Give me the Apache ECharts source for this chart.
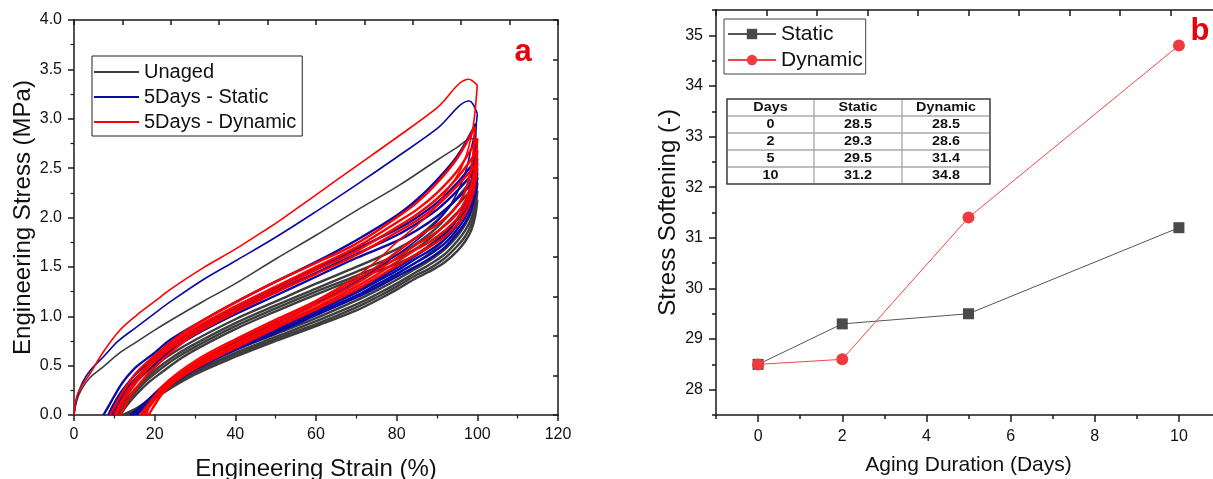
<!DOCTYPE html>
<html><head><meta charset="utf-8">
<script src="https://cdn.jsdelivr.net/npm/echarts@6/dist/echarts.min.js"></script>
<style>html,body{margin:0;padding:0;background:#fff}#c{width:1213px;height:479px}</style>
</head><body><div id="c"></div>
<script>
// ---------- Panel (a): cyclic stress-strain curves, [strain %, stress MPa] ----------
const unagedLoading = [
  [[0,0],[0.7,0.15],[2,0.27],[4,0.38],[7.3,0.49],[11,0.62],[15.5,0.74],[20,0.86],[24,0.96],[32,1.15],[40,1.33],[50,1.58],[60,1.82],[70,2.07],[80.8,2.33],[90,2.58],[95,2.71],[98.6,2.8],[100,2.77]],
  [[9.5,0],[11,0.1],[13,0.22],[16,0.36],[20,0.5],[25,0.64],[30,0.76],[40,0.97],[50,1.15],[60,1.33],[70,1.5],[80,1.68],[85,1.8],[90,1.97],[95,2.2],[100,2.45]],
  [[10.5,0],[12,0.1],[14,0.21],[17,0.34],[20,0.45],[25,0.6],[30,0.72],[40,0.93],[50,1.11],[60,1.28],[70,1.45],[80,1.62],[85,1.74],[90,1.9],[95,2.12],[100,2.35]],
  [[11,0],[12.5,0.09],[15,0.22],[18,0.35],[21,0.45],[25,0.57],[30,0.69],[40,0.9],[50,1.08],[60,1.25],[70,1.41],[80,1.58],[85,1.69],[90,1.85],[95,2.05],[100,2.27]],
  [[11.5,0],[13,0.09],[15.5,0.21],[18.5,0.33],[22,0.44],[26,0.56],[30,0.66],[40,0.87],[50,1.05],[60,1.22],[70,1.38],[80,1.53],[85,1.63],[90,1.78],[95,1.98],[100,2.18]]
];
const unagedUnloading = [
  [[100,2.77],[99.6,2.55],[99,2.38],[98,2.2],[96,2.0],[93,1.83],[90,1.7],[85,1.55],[80,1.42],[75,1.3],[70,1.2],[60,1.02],[50,0.85],[40,0.68],[30,0.48],[22,0.27],[16,0.08],[12,0]],
  [[100,2.45],[99.5,2.24],[98.5,2.06],[97,1.93],[95,1.81],[92,1.68],[88,1.56],[85,1.49],[80,1.37],[75,1.26],[70,1.16],[60,0.98],[50,0.82],[40,0.66],[30,0.47],[22,0.26],[16,0.08],[12,0]],
  [[100,2.35],[99.5,2.16],[98.5,1.99],[97,1.87],[95,1.76],[92,1.63],[88,1.52],[85,1.45],[80,1.33],[75,1.22],[70,1.12],[60,0.95],[50,0.79],[40,0.63],[30,0.44],[22,0.24],[16.5,0.08],[12.5,0]],
  [[100,2.27],[99.5,2.09],[98.5,1.93],[97,1.81],[95,1.71],[92,1.59],[88,1.48],[85,1.42],[80,1.3],[75,1.19],[70,1.09],[60,0.92],[50,0.77],[40,0.61],[30,0.43],[22,0.23],[17,0.08],[13,0]],
  [[100,2.18],[99.5,2.02],[98.5,1.87],[97,1.76],[95,1.66],[92,1.55],[88,1.45],[85,1.39],[80,1.27],[75,1.16],[70,1.06],[60,0.9],[50,0.75],[40,0.59],[30,0.41],[22,0.22],[17,0.07],[13.5,0]]
];
const staticLoading = [
  [[0,0],[0.7,0.17],[2,0.32],[4,0.45],[7.3,0.59],[11,0.75],[15.5,0.89],[20,1.03],[24,1.15],[32,1.37],[40,1.56],[50,1.8],[60,2.06],[70,2.33],[80,2.61],[90,2.9],[98,3.18],[100,3.05]],
  [[7.3,0],[9,0.12],[11.4,0.29],[13,0.38],[15.5,0.49],[19.7,0.62],[23.8,0.76],[32,0.96],[40,1.14],[50,1.35],[60,1.55],[70,1.77],[80,2.02],[85,2.18],[90,2.38],[95,2.62],[99.6,2.95]],
  [[8.5,0],[10,0.12],[12,0.25],[15,0.4],[20,0.58],[25,0.74],[30,0.87],[40,1.08],[50,1.28],[60,1.48],[70,1.68],[80,1.88],[85,2.0],[90,2.15],[95,2.35],[100,2.6]],
  [[9,0],[10.5,0.12],[12.5,0.24],[15.5,0.38],[20,0.55],[25,0.71],[30,0.84],[40,1.05],[50,1.25],[60,1.44],[70,1.63],[80,1.82],[85,1.94],[90,2.08],[95,2.27],[100,2.5]],
  [[9.5,0],[11,0.12],[13,0.23],[16,0.37],[20,0.52],[25,0.68],[30,0.81],[40,1.02],[50,1.21],[60,1.4],[70,1.59],[80,1.76],[85,1.87],[90,2.01],[95,2.19],[100,2.4]]
];
const staticUnloading = [
  [[100,3.05],[99.5,2.88],[98.6,2.72],[97,2.45],[95,2.25],[92,2.05],[88,1.88],[85,1.77],[80,1.62],[70,1.35],[60,1.13],[50,0.93],[40,0.74],[30,0.52],[22,0.27],[16,0.07],[14,0]],
  [[99.6,2.95],[99.3,2.62],[98.5,2.35],[97,2.14],[95,1.98],[92,1.83],[88,1.7],[85,1.62],[80,1.49],[75,1.37],[70,1.26],[60,1.07],[50,0.89],[40,0.72],[30,0.52],[22,0.29],[17,0.1],[14,0]],
  [[100,2.6],[99.5,2.4],[98.5,2.2],[97,2.05],[95,1.92],[92,1.78],[88,1.66],[85,1.59],[80,1.46],[75,1.35],[70,1.24],[60,1.05],[50,0.87],[40,0.7],[30,0.5],[22,0.28],[17,0.1],[14.5,0]],
  [[100,2.5],[99.5,2.32],[98.5,2.14],[97,2.0],[95,1.88],[92,1.74],[88,1.62],[85,1.55],[80,1.43],[75,1.32],[70,1.21],[60,1.03],[50,0.85],[40,0.68],[30,0.48],[22,0.26],[17,0.09],[15,0]],
  [[100,2.4],[99.5,2.24],[98.5,2.08],[97,1.95],[95,1.84],[92,1.7],[88,1.58],[85,1.51],[80,1.4],[75,1.29],[70,1.19],[60,1.01],[50,0.83],[40,0.66],[30,0.46],[22,0.25],[18,0.1],[15.5,0]]
];
const dynamicLoading = [
  [[0,0],[0.7,0.19],[2,0.3],[4,0.42],[7.3,0.64],[11.4,0.86],[15.5,1.01],[20,1.15],[23.8,1.27],[32,1.49],[40,1.68],[46.9,1.86],[50,1.94],[60,2.23],[70,2.52],[80,2.81],[90,3.11],[97.9,3.4],[100,3.34]],
  [[9,0],[10.5,0.12],[12.5,0.26],[15.5,0.43],[20,0.6],[25,0.77],[30,0.91],[40,1.14],[50,1.35],[60,1.54],[68.4,1.7],[75,1.86],[80,2.0],[85,2.15],[90,2.35],[95,2.6],[99.4,2.92]],
  [[10,0],[11.5,0.12],[13.5,0.26],[16.5,0.42],[20,0.57],[25,0.74],[30,0.88],[40,1.1],[50,1.3],[60,1.5],[70,1.7],[80,1.95],[85,2.08],[90,2.25],[95,2.47],[100,2.8]],
  [[10.5,0],[12,0.12],[14,0.25],[17,0.41],[20,0.54],[25,0.71],[30,0.85],[40,1.07],[50,1.27],[60,1.47],[70,1.66],[80,1.9],[85,2.03],[90,2.19],[95,2.4],[100,2.68]],
  [[11.5,0],[13,0.12],[15,0.25],[18,0.4],[21,0.52],[25,0.67],[30,0.82],[40,1.04],[50,1.24],[60,1.43],[70,1.62],[80,1.85],[85,1.97],[90,2.12],[95,2.32],[100,2.55]]
];
const dynamicUnloading = [
  [[100,3.34],[99.5,3.1],[99,2.93],[98.4,2.8],[97,2.6],[95,2.42],[92,2.25],[90,2.12],[85,1.92],[80,1.75],[75,1.56],[70,1.4],[60,1.16],[50,0.97],[40,0.77],[30,0.55],[22,0.3],[19,0.12],[18,0]],
  [[99.4,2.92],[99,2.65],[98,2.4],[96.5,2.22],[94,2.07],[90,1.93],[85,1.8],[80,1.65],[75,1.5],[70,1.37],[60,1.15],[50,0.95],[40,0.75],[30,0.53],[24,0.35],[20,0.18],[17,0]],
  [[100,2.8],[99.5,2.55],[98.5,2.33],[97,2.17],[95,2.04],[92,1.92],[88,1.8],[85,1.73],[80,1.59],[75,1.46],[70,1.33],[60,1.12],[50,0.92],[40,0.72],[30,0.51],[24,0.34],[20,0.19],[17.5,0.06],[16.5,0]],
  [[100,2.68],[99.5,2.46],[98.5,2.26],[97,2.11],[95,1.99],[92,1.87],[88,1.75],[85,1.68],[80,1.55],[75,1.42],[70,1.3],[60,1.09],[50,0.9],[40,0.7],[30,0.49],[25,0.36],[21,0.2],[18.5,0.07],[17.5,0]],
  [[100,2.55],[99.5,2.36],[98.5,2.18],[97,2.04],[95,1.93],[92,1.81],[88,1.7],[85,1.63],[80,1.51],[75,1.39],[70,1.27],[60,1.07],[50,0.88],[40,0.68],[30,0.47],[25,0.34],[22,0.22],[19.5,0.07],[18.5,0]]
];
const curveNames = ['Unaged', '5Days - Static', '5Days - Dynamic'];

// ---------- Panel (b): stress softening ----------
const agingDays = [0, 2, 5, 10];
const staticSoftening = [28.5, 29.3, 29.5, 31.2];
const dynamicSoftening = [28.5, 28.6, 31.4, 34.8];
const softSeriesNames = ['Static', 'Dynamic'];
const tableHeader = ['Days', 'Static', 'Dynamic'];
const dayTickLabels = [0, 2, 4, 6, 8, 10];
const dayMinorTicks = [-1, 1, 3, 5, 7, 9];
const softTickLabels = [28, 29, 30, 31, 32, 33, 34, 35];
const softMinorTicks = [27.5, 28.5, 29.5, 30.5, 31.5, 32.5, 33.5, 34.5, 35.5];

// ---------- chart ----------
const FONT = '"Liberation Sans", Arial, Helvetica, sans-serif';
const AX = {color: '#1a1a1a', width: 1.5};
const chart = echarts.init(document.getElementById('c'), null, {renderer: 'canvas'});
const curveColors = ['#3d3d3d', '#0a0aa5', '#ff0000'];

function curveSeries(name, color, loads, unloads) {
  const out = [];
  for (let i = 0; i < loads.length; i++) {
    const w = i === 0 ? 1.6 : 2.4;
    [loads[i], unloads[i]].forEach(d => {
      out.push({
        type: 'line', name: name, xAxisIndex: 0, yAxisIndex: 0, data: d,
        symbol: 'none', showSymbol: false, smooth: 0.35, silent: true, clip: true,
        lineStyle: {color: color, width: w}, itemStyle: {color: color}
      });
    });
  }
  return out;
}

const series = []
  .concat(curveSeries(curveNames[0], curveColors[0], unagedLoading, unagedUnloading))
  .concat(curveSeries(curveNames[1], curveColors[1], staticLoading, staticUnloading))
  .concat(curveSeries(curveNames[2], curveColors[2], dynamicLoading, dynamicUnloading));

series.push({
  type: 'line', name: softSeriesNames[0], xAxisIndex: 2, yAxisIndex: 2,
  data: agingDays.map((d, i) => [d, staticSoftening[i]]),
  symbol: 'rect', symbolSize: 11, lineStyle: {color: '#555555', width: 1},
  itemStyle: {color: '#4a4a4a'}
});
series.push({
  type: 'line', name: softSeriesNames[1], xAxisIndex: 2, yAxisIndex: 2,
  data: agingDays.map((d, i) => [d, dynamicSoftening[i]]),
  symbol: 'circle', symbolSize: 12, lineStyle: {color: '#f04848', width: 1},
  itemStyle: {color: '#ef3b40'}
});

// table graphic
const tbl = {cols: [727, 814, 902, 990], y0: 99, rowH: 17};
const tableRows = [tableHeader].concat(agingDays.map((d, i) => [String(d), staticSoftening[i].toFixed(1), dynamicSoftening[i].toFixed(1)]));
const graphics = [];
const nRows = tableRows.length;
const yEnd = tbl.y0 + nRows * tbl.rowH;
graphics.push({type: 'rect', shape: {x: tbl.cols[0], y: tbl.y0, width: tbl.cols[3] - tbl.cols[0], height: nRows * tbl.rowH},
  style: {fill: '#fff', stroke: '#3a3a3a', lineWidth: 1.5}, z: 100});
for (let r = 1; r < nRows; r++) {
  const y = tbl.y0 + r * tbl.rowH;
  graphics.push({type: 'line', shape: {x1: tbl.cols[0] + 1, y1: y, x2: tbl.cols[3] - 1, y2: y}, style: {stroke: '#a8a8a8', lineWidth: 1.3}, z: 101});
}
for (let c = 1; c < 3; c++) {
  graphics.push({type: 'line', shape: {x1: tbl.cols[c], y1: tbl.y0 + 1, x2: tbl.cols[c], y2: yEnd - 1}, style: {stroke: '#a8a8a8', lineWidth: 1.3}, z: 101});
}
tableRows.forEach((row, r) => {
  row.forEach((txt, c) => {
    graphics.push({type: 'text', z: 102,
      x: (tbl.cols[c] + tbl.cols[c + 1]) / 2, y: tbl.y0 + r * tbl.rowH + tbl.rowH / 2 + 0.5, scaleX: 1.15,
      style: {text: txt, x: 0, y: 0,
      align: 'center', verticalAlign: 'middle', textAlign: 'center', textVerticalAlign: 'middle',
      font: 'bold 12.5px ' + FONT, fill: '#111'}
    });
  });
});
graphics.push({type: 'text', z: 102, style: {text: 'a', x: 523, y: 52, align: 'center', verticalAlign: 'middle', textAlign: 'center', textVerticalAlign: 'middle', font: 'bold 31px ' + FONT, fill: '#e8000b'}});
graphics.push({type: 'text', z: 102, style: {text: 'b', x: 1200, y: 31, align: 'center', verticalAlign: 'middle', textAlign: 'center', textVerticalAlign: 'middle', font: 'bold 31px ' + FONT, fill: '#e8000b'}});

const labelStyle = {fontSize: 16, color: '#111', fontFamily: FONT};
const nameStyle = (s) => ({fontSize: s, color: '#111', fontFamily: FONT});

const option = {
  animation: false,
  backgroundColor: '#ffffff',
  grid: [
    {left: 74, right: 1213 - 558, top: 20, bottom: 64, outerBoundsMode: 'none', containLabel: false},
    {left: 716, right: -8, top: 10, bottom: 64, outerBoundsMode: 'none', containLabel: false},
    {left: 716, right: -8, top: 10, bottom: 64, outerBoundsMode: 'none', containLabel: false}
  ],
  legend: [
    {data: curveNames.map(n => ({name: n, icon: 'rect'})), orient: 'vertical', left: 92, top: 56, padding: [4, 6, 2, 2], itemGap: 1,
     itemWidth: 45, itemHeight: 1.8, borderColor: '#222', borderWidth: 1, backgroundColor: '#fff',
     selectedMode: false,
     textStyle: {fontSize: 20, color: '#111', fontFamily: FONT, lineHeight: 24}},
    {data: softSeriesNames, orient: 'vertical', left: 724, top: 19, padding: [2, 3, 1, 3], itemGap: 0,
     itemWidth: 48, itemHeight: 13, borderColor: '#444', borderWidth: 1, backgroundColor: '#fff',
     selectedMode: false,
     textStyle: {fontSize: 21, color: '#111', fontFamily: FONT, lineHeight: 26}}
  ],
  xAxis: [
    {gridIndex: 0, type: 'value', min: 0, max: 120, interval: 20, position: 'bottom',
     axisLine: {show: true, onZero: false, lineStyle: AX},
     axisTick: {show: true, inside: false, length: 6, lineStyle: AX},
     minorTick: {show: true, splitNumber: 2, length: 3.5, lineStyle: {color: '#1a1a1a', width: 1.2}},
     axisLabel: Object.assign({margin: 12}, labelStyle), splitLine: {show: false},
     name: 'Engineering Strain (%)', nameLocation: 'middle', nameGap: 42, nameTextStyle: nameStyle(24)},
    {gridIndex: 0, type: 'value', min: 0, max: 10, interval: 1, position: 'top',
     axisLine: {show: true, onZero: false, lineStyle: AX},
     axisTick: {show: true, inside: true, length: 5, lineStyle: AX},
     axisLabel: {show: false}, splitLine: {show: false}},
    {gridIndex: 1, type: 'value', min: -1, max: 11, interval: 1, position: 'bottom',
     axisLine: {show: true, onZero: false, lineStyle: AX},
     axisTick: {show: true, inside: false, length: 7, lineStyle: AX, customValues: dayTickLabels},
     axisLabel: Object.assign({margin: 14, customValues: dayTickLabels,
       formatter: v => (dayTickLabels.indexOf(v) >= 0 ? String(v) : '')}, labelStyle),
     splitLine: {show: false},
     name: 'Aging Duration (Days)', nameLocation: 'middle', nameGap: 40, nameTextStyle: nameStyle(21)},
    {gridIndex: 1, type: 'value', min: 0, max: 10, interval: 1, position: 'top',
     axisLine: {show: true, onZero: false, lineStyle: AX},
     axisTick: {show: true, inside: true, length: 6, lineStyle: AX},
     axisLabel: {show: false}, splitLine: {show: false}},
    {gridIndex: 2, type: 'value', min: -1, max: 11, interval: 1, position: 'bottom',
     axisLine: {show: false, onZero: false},
     axisTick: {show: true, inside: false, length: 4, lineStyle: AX, customValues: dayMinorTicks},
     axisLabel: {show: false}, splitLine: {show: false}}
  ],
  yAxis: [
    {gridIndex: 0, type: 'value', min: 0, max: 4, interval: 0.5, position: 'left',
     axisLine: {show: true, onZero: false, lineStyle: AX},
     axisTick: {show: true, inside: false, length: 6, lineStyle: AX},
     minorTick: {show: true, splitNumber: 2, length: 3.5, lineStyle: {color: '#1a1a1a', width: 1.2}},
     axisLabel: Object.assign({margin: 12, formatter: v => v.toFixed(1)}, labelStyle), splitLine: {show: false},
     name: 'Engineering Stress (MPa)', nameLocation: 'middle', nameGap: 39, nameTextStyle: nameStyle(24)},
    {gridIndex: 0, type: 'value', min: 0, max: 10, interval: 1, position: 'right',
     axisLine: {show: true, onZero: false, lineStyle: AX},
     axisTick: {show: true, inside: true, length: 5, lineStyle: AX},
     axisLabel: {show: false}, splitLine: {show: false}},
    {gridIndex: 1, type: 'value', min: 27.5, max: 35.5, interval: 0.5, position: 'left',
     axisLine: {show: true, onZero: false, lineStyle: AX},
     axisTick: {show: true, inside: false, length: 7, lineStyle: AX, customValues: softTickLabels},
     axisLabel: Object.assign({margin: 13, customValues: softTickLabels,
       formatter: v => (softTickLabels.indexOf(v) >= 0 ? String(v) : '')}, labelStyle),
     splitLine: {show: false},
     name: 'Stress Softening (-)', nameLocation: 'middle', nameGap: 36, nameTextStyle: nameStyle(24)},
    {gridIndex: 2, type: 'value', min: 27.5, max: 35.5, interval: 0.5, position: 'left',
     axisLine: {show: false, onZero: false},
     axisTick: {show: true, inside: false, length: 4, lineStyle: AX, customValues: softMinorTicks},
     axisLabel: {show: false}, splitLine: {show: false}}
  ],
  graphic: graphics,
  series: series
};
chart.setOption(option);
</script>
</body></html>
